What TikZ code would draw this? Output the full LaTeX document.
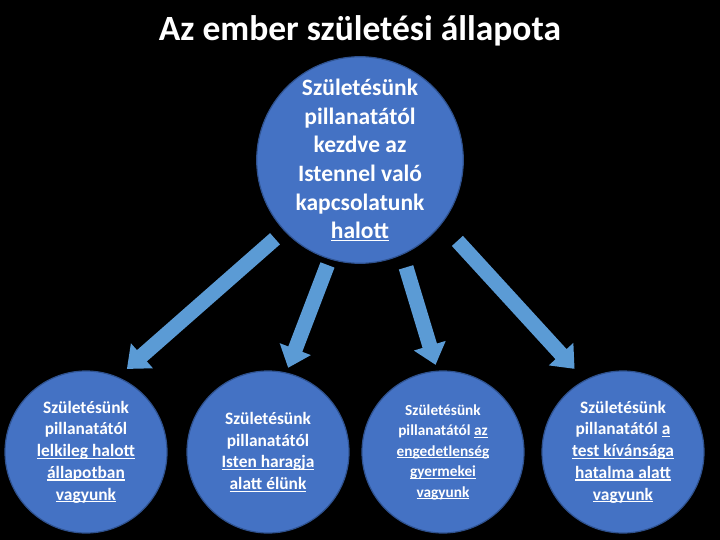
\documentclass[tikz,border=0pt]{standalone}
\usepackage{fontspec}
\setmainfont{Carlito}
\usetikzlibrary{arrows.meta, positioning}

\definecolor{slideblue}{HTML}{4472C4}
\definecolor{rimblue}{HTML}{2F528F}
\definecolor{arrowblue}{HTML}{5B9BD5}

% underline sitting close to the baseline
\newcommand\lineunder[1]{\setbox0\hbox{#1}\rlap{\rule[-2.2pt]{\wd0}{1.1pt}}\box0}

\begin{document}
\begin{tikzpicture}[x=1pt, y=-1pt,
        % Top circle: solid rim, office blue fill
        rootball/.style={circle, draw=rimblue, line width=1.2pt, fill=slideblue,
            minimum size=196pt, inner sep=0pt,
            align=center, text=white, font=\fontsize{23.5}{28.7}\selectfont\bfseries},
        % Bottom circles: same look, smaller
        stateball/.style={circle, draw=rimblue, line width=1.2pt, fill=slideblue,
            minimum size=162pt, inner sep=0pt,
            align=center, text=white, font=\fontsize{17.4}{21.7}\selectfont\bfseries},
        % Block arrows: wide light blue shaft, broad triangle head
        flow/.style={draw=arrowblue, line width=15pt,
            -{Triangle[width=32pt, length=20pt]}},
        ]

        % Slide background
        \fill[black] (0,0) rectangle (720,540);
        \useasboundingbox (0,0) rectangle (720,540);

        % Row y-coordinate of the bottom circles
        \def\rowB{452}

        % === Title ===
        \node[text=white, font=\fontsize{35.5}{40}\selectfont\bfseries] (title) at (360,31) {Az ember születési állapota};

        % === Top circle ===
        \node[rootball] (root) at (360,160) {Születésünk\\pillanatától\\kezdve az\\Istennel való\\kapcsolatunk\\\lineunder{halott}};

        % === Bottom row ===
        \node[stateball] (s1) at (86,\rowB) {Születésünk\\pillanatától\\\lineunder{lelkileg halott}\\\lineunder{állapotban}\\\lineunder{vagyunk}};
        \node[stateball] (s2) at (268,\rowB) {Születésünk\\pillanatától\\\lineunder{Isten haragja}\\\lineunder{alatt élünk}};
        \node[stateball, font=\fontsize{15.3}{20.5}\selectfont\bfseries] (s3) at (443,\rowB) {Születésünk\\pillanatától \lineunder{az}\\\lineunder{engedetlenség}\\\lineunder{gyermekei}\\\lineunder{vagyunk}};
        \node[stateball] (s4) at (623,\rowB) {Születésünk\\pillanatától \lineunder{a}\\\lineunder{test kívánsága}\\\lineunder{hatalma alatt}\\\lineunder{vagyunk}};

        % === Arrows ===
        \draw[flow, shorten <=12pt, shorten >=12pt] (root.223) -- (s1.67);
        \draw[flow, shorten <=6pt, shorten >=5pt] (root.253) -- (s2.77);
        \draw[flow, shorten <=13pt, shorten >=6pt] (root.294) -- (s3.94);
        \draw[flow, shorten <=23pt, shorten >=15pt] (root.322) -- (s4.118);

    \end{tikzpicture}
\end{document}
